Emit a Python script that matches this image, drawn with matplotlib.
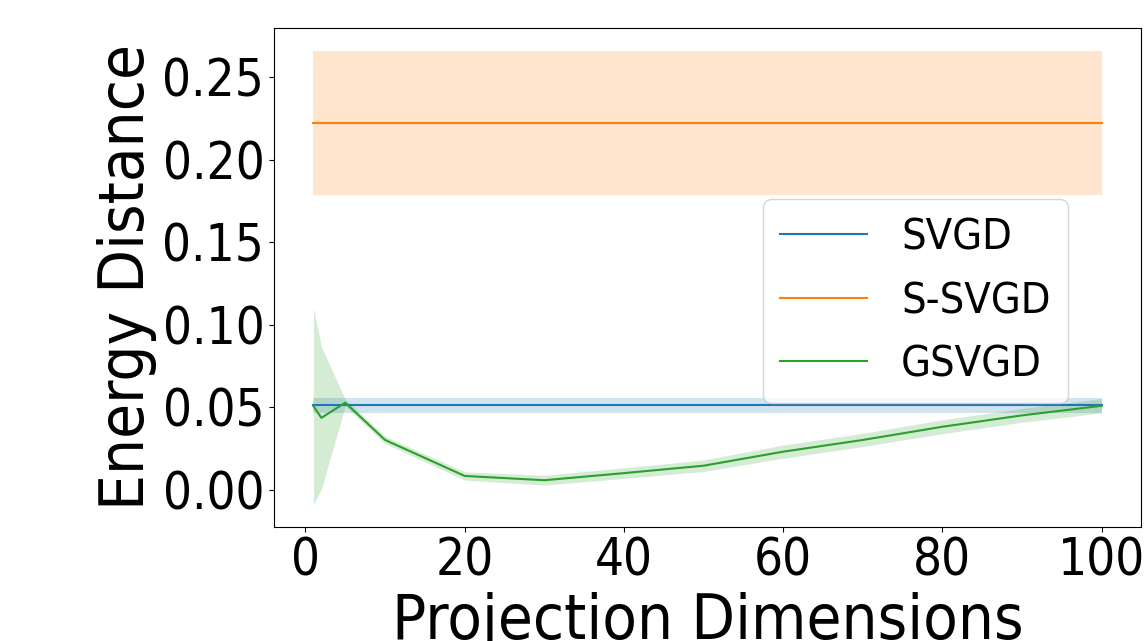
import numpy as np
import matplotlib
matplotlib.use("Agg")
import matplotlib.pyplot as plt
from matplotlib import font_manager

# projection dimensions evaluated
dims = [1, 2, 5, 10, 20, 30, 40, 50, 60, 70, 80, 90, 100]

# energy distance, mean and spread
svgd_mean = [0.0512] * len(dims)
svgd_std = [0.0043] * len(dims)

ssvgd_mean = [0.2226] * len(dims)
ssvgd_std = [0.0436] * len(dims)

gsvgd_mean = [0.0508, 0.0437, 0.0529, 0.0303, 0.0085, 0.0059, 0.0102,
              0.0147, 0.0232, 0.0303, 0.0383, 0.0452, 0.0510]
gsvgd_std = [0.0595, 0.0432, 0.0020, 0.0022, 0.0025, 0.0030, 0.0032,
             0.0035, 0.0040, 0.0040, 0.0042, 0.0042, 0.0043]

labels = ["SVGD", "S-SVGD", "GSVGD"]

# the reference text is a bit taller than wide: use condensed DejaVu if present
scale = 1.0
fp = font_manager.FontProperties(family="DejaVu Sans", stretch="condensed")
if "Condensed" in font_manager.findfont(fp, fallback_to_default=False):
    plt.rcParams["font.stretch"] = "condensed"
    scale = 1.11

fig = plt.figure(figsize=(11.44, 6.41), dpi=100)
ax = fig.add_axes([274 / 1144, 114 / 641, 867 / 1144, 499 / 641])

x = np.array(dims)
series = [(svgd_mean, svgd_std), (ssvgd_mean, ssvgd_std), (gsvgd_mean, gsvgd_std)]
for i, (m, s) in enumerate(series):
    m = np.array(m)
    s = np.array(s)
    col = "C%d" % i
    ax.plot(x, m, color=col, label=labels[i])
    ax.fill_between(x, m - s, m + s, color=col, alpha=0.2, linewidth=0)

ax.set_xticks([0, 20, 40, 60, 80, 100])
ax.set_yticks([0.0, 0.05, 0.10, 0.15, 0.20, 0.25])
ax.tick_params(labelsize=33 * scale)
ax.set_xlabel("Projection Dimensions", fontsize=41 * scale)
ax.set_ylabel("Energy Distance", fontsize=41 * scale)
ax.legend(fontsize=28 * scale, loc="upper left", bbox_to_anchor=(0.564, 0.657),
          borderaxespad=0, handlelength=2.0)

fig.savefig("out.png", dpi=100)
